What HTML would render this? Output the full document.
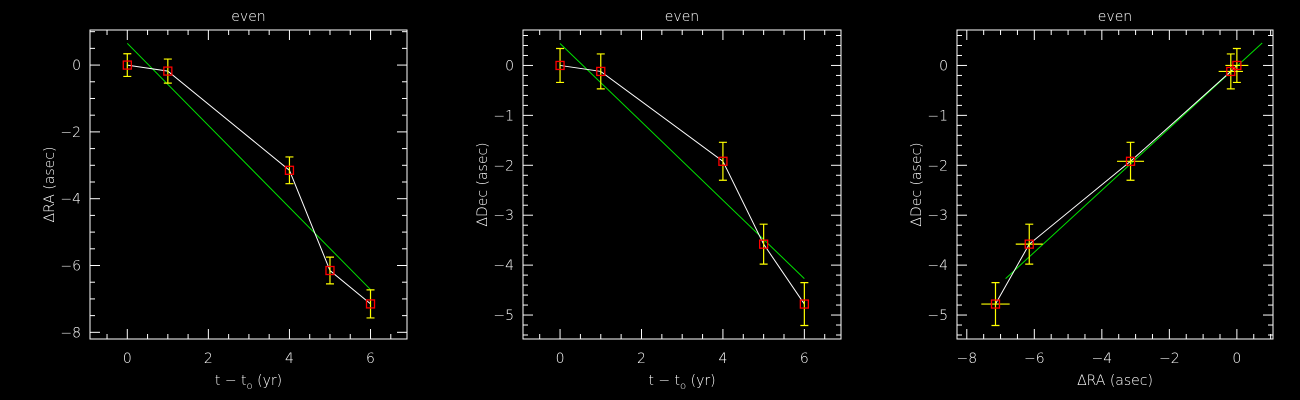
<!DOCTYPE html>
<html><head><meta charset="utf-8"><style>
html,body{margin:0;padding:0;background:#000;}
svg{display:block;}
text{font-family:"DejaVu Sans","Liberation Sans",sans-serif;fill:#fff;font-size:14px;font-weight:300;}
</style></head><body>
<svg id="chart" width="1300" height="400"></svg>
<script>
const times = [0, 1, 4, 5, 6];
const deltaRA = [0, -0.18, -3.15, -6.15, -7.15];
const deltaRAErr = [0.34, 0.36, 0.4, 0.4, 0.42];
const deltaDec = [0, -0.12, -1.92, -3.58, -4.78];
const deltaDecErr = [0.34, 0.35, 0.38, 0.4, 0.43];
const fitRA = [0.65, -6.72];
const fitDec = [0.44, -4.27];
const fitT = [0, 6];
const fitRADec_x = [-6.85, 0.75];
const fitRADec_y = [-4.27, 0.45];
const xTicksT = [0, 2, 4, 6];
const yTicksRA = [0, -2, -4, -6, -8];
const yTicksDec = [0, -1, -2, -3, -4, -5];
const xTicksRA = [-8, -6, -4, -2, 0];

const NS = "http://www.w3.org/2000/svg";
const svg = document.getElementById('chart');
function el(tag, attrs, parent) {
  const e = document.createElementNS(NS, tag);
  for (const k in attrs) e.setAttribute(k, attrs[k]);
  (parent || svg).appendChild(e);
  return e;
}
function fmt(v){ return v < 0 ? '\u2212' + Math.abs(v) : String(v); }

function panel(cfg) {
  const g = el('g', {});
  
  
  const L = cfg.L, R = cfg.R, T = 30, B = 339;
  const sx = v => L + (v - cfg.xr[0]) / (cfg.xr[1] - cfg.xr[0]) * (R - L);
  const sy = v => B - (v - cfg.yr[0]) / (cfg.yr[1] - cfg.yr[0]) * (B - T);
  const frame = el('rect', {x: L, y: T, width: R - L, height: B - T, fill: 'none', stroke: '#fff', 'stroke-width': 1}, g);
  
  
  const title = el('text', {x: (L + R) / 2, y: 21, 'text-anchor': 'middle', 'font-size': 15}, g);
  title.textContent = 'even';
  
  
  for (let v = Math.ceil(cfg.xr[0] / cfg.xminor) * cfg.xminor; v <= cfg.xr[1]; v += cfg.xminor) {
    const major = Math.abs(v / cfg.xmajor - Math.round(v / cfg.xmajor)) < 1e-6;
    const len = major ? 10 : 5, x = sx(v);
    const t1 = el('line', {x1: x, x2: x, y1: B, y2: B - len, stroke: '#fff'}, g);
    
    
    const t2 = el('line', {x1: x, x2: x, y1: T, y2: T + len, stroke: '#fff'}, g);
    
    
  }
  for (let v = Math.ceil(cfg.yr[0] / cfg.yminor) * cfg.yminor; v <= cfg.yr[1]; v += cfg.yminor) {
    const major = Math.abs(v / cfg.ymajor - Math.round(v / cfg.ymajor)) < 1e-6;
    const len = major ? 10 : 5, y = sy(v);
    const t1 = el('line', {x1: L, x2: L + len, y1: y, y2: y, stroke: '#fff'}, g);
    
    
    const t2 = el('line', {x1: R, x2: R - len, y1: y, y2: y, stroke: '#fff'}, g);
    
    
  }
  cfg.xticks.forEach(v => {
    const t = el('text', {x: sx(v), y: 363, 'text-anchor': 'middle', 'font-size': 15}, g);
    t.textContent = fmt(v);
    
    
  });
  cfg.yticks.forEach(v => {
    const t = el('text', {x: L - 9, y: sy(v) + 5, 'text-anchor': 'end', 'font-size': 15}, g);
    t.textContent = fmt(v);
    
    
  });
  const xt = el('text', {x: (L + R) / 2, y: 385, 'text-anchor': 'middle', 'font-size': 15}, g);
  xt.innerHTML = cfg.xlabel;
  
  
  const yt = el('text', {x: 0, y: 0, 'text-anchor': 'middle', 'font-size': 15, transform: `translate(${L - 36},${(T + B) / 2}) rotate(-90)`}, g);
  yt.textContent = cfg.ylabel;
  
  
  const fit = el('line', {x1: sx(cfg.fx[0]), y1: sy(cfg.fy[0]), x2: sx(cfg.fx[1]), y2: sy(cfg.fy[1]), stroke: '#00e000', 'stroke-width': 1}, g);
  
  
  const pts = cfg.x.map((v, i) => sx(v) + ',' + sy(cfg.y[i])).join(' ');
  const pl = el('polyline', {points: pts, fill: 'none', stroke: '#fff', 'stroke-width': 1}, g);
  
  
  cfg.x.forEach((v, i) => {
    const x = sx(v), y = sy(cfg.y[i]);
    const ye = cfg.ye[i];
    const eb = el('path', {d: `M${x},${sy(cfg.y[i] + ye)}V${sy(cfg.y[i] - ye)}M${x - 4},${sy(cfg.y[i] + ye)}h8M${x - 4},${sy(cfg.y[i] - ye)}h8`, stroke: '#ffff00', fill: 'none', 'stroke-width': 1.2}, g);
    
    
    if (cfg.xe) {
      const xe = cfg.xe[i];
      const hb = el('line', {x1: sx(v - xe), x2: sx(v + xe), y1: y, y2: y, stroke: '#ffff00', 'stroke-width': 1.2}, g);
      
      
    }
    const m = el('rect', {x: x - 4, y: y - 4, width: 8, height: 8, fill: 'none', stroke: '#ff0000', 'stroke-width': 1.3}, g);
    
    
  });
}
const tLabel = 't \u2212 t<tspan font-size="10" dy="4">o</tspan><tspan dy="-4"> (yr)</tspan>';
panel({name: 'ra-vs-time-panel', L: 90, R: 407, xr: [-0.92, 6.9], yr: [-8.2, 1.05], xmajor: 2, xminor: 0.5, ymajor: 2, yminor: 0.5,
  xticks: xTicksT, yticks: yTicksRA, xlabel: tLabel, ylabel: '\u0394RA (asec)',
  x: times, y: deltaRA, ye: deltaRAErr, fx: fitT, fy: fitRA});
panel({name: 'dec-vs-time-panel', L: 523, R: 841, xr: [-0.91, 6.9], yr: [-5.48, 0.71], xmajor: 2, xminor: 0.5, ymajor: 1, yminor: 0.2,
  xticks: xTicksT, yticks: yTicksDec, xlabel: tLabel, ylabel: '\u0394Dec (asec)',
  x: times, y: deltaDec, ye: deltaDecErr, fx: fitT, fy: fitDec});
panel({name: 'dec-vs-ra-panel', L: 957, R: 1273, xr: [-8.29, 1.07], yr: [-5.48, 0.71], xmajor: 2, xminor: 0.5, ymajor: 1, yminor: 0.2,
  xticks: xTicksRA, yticks: yTicksDec, xlabel: '\u0394RA (asec)', ylabel: '\u0394Dec (asec)',
  x: deltaRA, y: deltaDec, ye: deltaDecErr, xe: deltaRAErr, fx: fitRADec_x, fy: fitRADec_y});
</script>
</body></html>
